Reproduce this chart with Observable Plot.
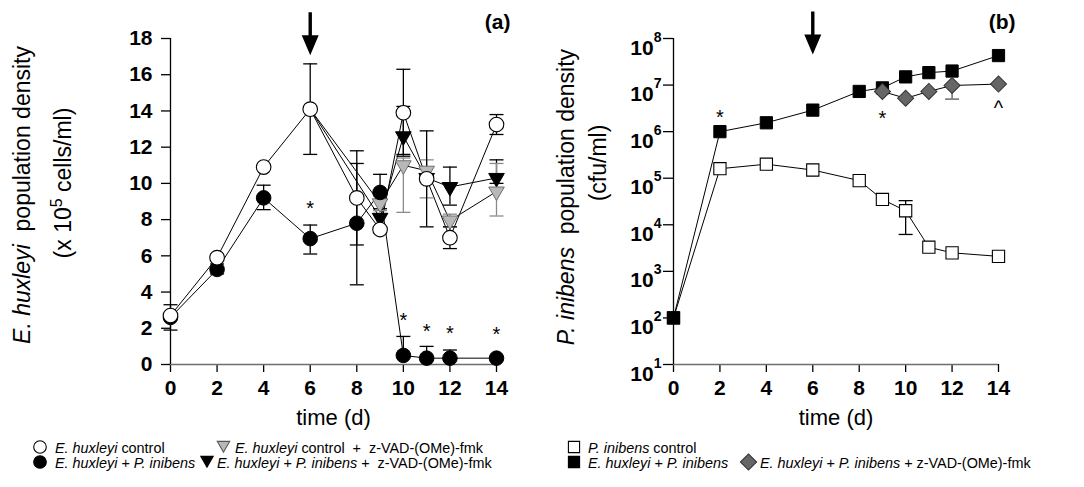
<!DOCTYPE html>
<html><head><meta charset="utf-8">
<script src="https://cdn.jsdelivr.net/npm/d3@7"></script>
<script src="https://cdn.jsdelivr.net/npm/@observablehq/plot@0.6"></script>
<style>
body{margin:0;background:#fff;}
#wrap{position:relative;width:1084px;height:487px;overflow:hidden;font-family:"Liberation Sans",Arial,sans-serif;}
#wrap svg{position:absolute;top:0;overflow:visible;}
</style></head><body><div id="wrap"></div>
<script>
// ---------------- data ----------------
const days = [0, 2, 4, 6, 8, 9, 10, 11, 12, 14];
const xTicks = [0, 2, 4, 6, 8, 10, 12, 14];
const yTicksA = [0, 2, 4, 6, 8, 10, 12, 14, 16, 18];
const yTicksB = [1e1, 1e2, 1e3, 1e4, 1e5, 1e6, 1e7, 1e8];

// panel (a): E. huxleyi density (x 10^5 cells/ml)
const ehControl   = [2.7, 5.9, 10.9, 14.1, 9.2, 7.45, 13.9, 10.25, 7.0, 13.25];
const ehControlLo = [1.9, null, null, 11.6, 6.6, null, 11.5, 7.6, 6.4, 12.7];
const ehControlHi = [3.3, null, null, 16.6, 11.8, null, 16.3, 12.9, 7.6, 13.8];
const ehPi   = [2.6, 5.25, 9.2, 6.95, 7.8, 9.5, 0.5, 0.35, 0.35, 0.35];
const ehPiLo = [null, 5.0, 8.55, 6.1, 4.4, 8.6, null, null, null, null];
const ehPiHi = [null, 5.55, 9.9, 7.7, 11.1, 10.5, 1.55, 1.0, 0.8, null];
const zvadDays = [6, 9, 10, 11, 12, 14];
const ehControlZvad   = [14.1, 8.9, 11.0, 10.7, 7.95, 9.55];
const ehControlZvadLo = [null, 8.5, 8.4, 9.2, 7.6, 8.2];
const ehControlZvadHi = [null, 9.3, 11.4, 11.3, 8.3, 11.1];
const ehPiZvad   = [14.1, 8.1, 12.6, 10.3, 9.8, 10.3];
const ehPiZvadLo = [null, null, 11.6, null, 8.8, 10.0];
const ehPiZvadHi = [null, null, 14.25, null, 10.9, 11.3];
const starDaysA = [6, 10, 11, 12, 14];
const starValsA = [8.9, 2.7, 2.1, 2.0, 1.9];

// panel (b): P. inibens density (cfu/ml)
const piControl   = [100, 1.6e5, 2.0e5, 1.5e5, 8.9e4, 3.5e4, 2.0e4, 3.3e3, 2.5e3, 2.1e3];
const piControlLo = [null, null, null, null, null, null, 6.2e3, null, null, null];
const piControlHi = [null, null, null, null, null, null, 3.3e4, null, null, null];
const ehPiB = [100, 1.0e6, 1.55e6, 2.9e6, 7.3e6, 8.7e6, 1.5e7, 1.85e7, 2.0e7, 4.3e7];
const zvadDaysB = [9, 10, 11, 12, 14];
const ehPiZvadB   = [7.3e6, 5.2e6, 7.3e6, 9.8e6, 1.05e7];
const ehPiZvadBLo = [null, null, null, 5.0e6, null];
const starDaysB = [2, 9, 14];
const starValsB = [2.56e6, 2.43e6, 3.98e6];
const starSymsB = ["*", "*", "^"];

// arrow (addition of z-VAD at day 6)
const arrowDay = 6;
const arrowTopA = 19.45;
const arrowTopB = 3.8e8;

// ---------------- helpers ----------------
const FONT = "'Liberation Sans', Arial, Helvetica, sans-serif";
function rows(xs, ys, lo, hi) {
  return xs.map((x, i) => ({x, y: ys[i], lo: lo ? lo[i] : null, hi: hi ? hi[i] : null}));
}
function errBars(r) {
  return r.filter(d => d.lo != null || d.hi != null).map(d => ({x: d.x, y1: d.lo ?? d.y, y2: d.hi ?? d.y}));
}
function caps(r) {
  const out = [];
  r.forEach(d => { if (d.lo != null) out.push({x: d.x, y: d.lo}); if (d.hi != null) out.push({x: d.x, y: d.hi}); });
  return out;
}
const capSymbol = {draw(ctx) { ctx.moveTo(-7, 0); ctx.lineTo(7, 0); }};
const arrowSymbol = {draw(ctx) {
  const l = 43, hh = 20, hw = 8.5, sw = 1.7;
  ctx.moveTo(-sw, 0); ctx.lineTo(sw, 0); ctx.lineTo(sw, l - hh); ctx.lineTo(hw, l - hh);
  ctx.lineTo(0, l); ctx.lineTo(-hw, l - hh); ctx.lineTo(-sw, l - hh); ctx.closePath();
}};
function errMarks(r, color) {
  return [
    Plot.ruleX(errBars(r), {x: "x", y1: "y1", y2: "y2", stroke: color, strokeWidth: 1.3}),
    Plot.dot(caps(r), {x: "x", y: "y", symbol: capSymbol, fill: "none", stroke: color, strokeWidth: 1.3})
  ];
}
function yTitle(svg, x, y, parts) {
  const t = d3.select(svg).append("text")
    .attr("transform", `translate(${x},${y}) rotate(-90)`)
    .attr("text-anchor", "middle").attr("fill", "black")
    .style("font-family", FONT).style("font-size", "23px").style("font-weight", "normal").style("white-space", "pre");
  parts.forEach(p => {
    const s = t.append("tspan").text(p.t);
    if (p.i) s.style("font-style", "italic");
    if (p.sup) s.attr("dy", -9).style("font-size", "16px");
    if (p.after) s.attr("dy", 9);
  });
}

const wrap = document.getElementById("wrap");

// ---------------- panel (a) ----------------
const aCtrl = rows(days, ehControl, ehControlLo, ehControlHi);
const aPi = rows(days, ehPi, ehPiLo, ehPiHi);
const aCtrlZ = rows(zvadDays, ehControlZvad, ehControlZvadLo, ehControlZvadHi);
const aPiZ = rows(zvadDays, ehPiZvad, ehPiZvadLo, ehPiZvadHi);
const starsA = starDaysA.map((x, i) => ({x, y: starValsA[i], s: "*"}));

const plotA = Plot.plot({
  width: 540, height: 440,
  marginLeft: 170, marginRight: 44, marginTop: 38, marginBottom: 76,
  x: {domain: [0, 14]},
  y: {domain: [0, 18]},
  style: {fontFamily: FONT, fontSize: "21px", fontWeight: "bold", background: "transparent", overflow: "visible", color: "black"},
  marks: [
    Plot.axisX({ticks: xTicks, tickSize: 8, tickPadding: 8, label: null, strokeWidth: 1.3}),
    Plot.axisY({ticks: yTicksA, tickSize: 9, tickPadding: 9, label: null, strokeWidth: 1.3}),
    Plot.ruleY([0], {stroke: "#6e6e6e", strokeWidth: 1.5}),
    Plot.ruleX([0], {stroke: "black", strokeWidth: 1.3}),
    Plot.line(aPiZ, {x: "x", y: "y", stroke: "black", strokeWidth: 1}),
    Plot.line(aCtrlZ, {x: "x", y: "y", stroke: "black", strokeWidth: 1}),
    Plot.line(aPi, {x: "x", y: "y", stroke: "black", strokeWidth: 1}),
    Plot.line(aCtrl, {x: "x", y: "y", stroke: "black", strokeWidth: 1}),
    ...errMarks(aPiZ, "black"),
    ...errMarks(aCtrlZ, "#8a8a8a"),
    ...errMarks(aPi, "black"),
    ...errMarks(aCtrl, "black"),
    Plot.dot(aPiZ.filter(d => d.x >= 9), {x: "x", y: "y", symbol: "triangle", rotate: 180, r: 5.8, fill: "black", stroke: "black", strokeWidth: 1}),
    Plot.dot(aCtrlZ.filter(d => d.x >= 9), {x: "x", y: "y", symbol: "triangle", rotate: 180, r: 5.8, fill: "#b8b8b8", stroke: "#707070", strokeWidth: 1}),
    Plot.dot(aPi, {x: "x", y: "y", r: 7.3, fill: "black", stroke: "black", strokeWidth: 1}),
    Plot.dot(aCtrl, {x: "x", y: "y", r: 7.3, fill: "white", stroke: "black", strokeWidth: 1.1}),
    Plot.text(starsA, {x: "x", y: "y", text: "s", fontSize: 20, fontWeight: "normal", dy: 5}),
    Plot.dot([{x: arrowDay, y: arrowTopA}], {x: "x", y: "y", symbol: arrowSymbol, fill: "black", stroke: "none"}),
    Plot.text(["(a)"], {frameAnchor: "top-right", dx: 14, dy: -10, lineAnchor: "bottom", textAnchor: "end", fontSize: 21, fontWeight: "bold"}),
    Plot.text(["time (d)"], {frameAnchor: "bottom", dy: 60, lineAnchor: "bottom", fontSize: 22, fontWeight: "normal"})
  ]
});
plotA.style.left = "0px";
wrap.appendChild(plotA);
yTitle(plotA, 30, 195, [{t: "E. huxleyi", i: true}, {t: "  population density"}]);
yTitle(plotA, 71, 183, [{t: "(x 10"}, {t: "5", sup: true}, {t: " cells/ml)", after: true}]);

// ---------------- panel (b) ----------------
const bCtrl = rows(days, piControl, piControlLo, piControlHi);
const bPi = rows(days, ehPiB, null, null);
const bPiZ = rows(zvadDaysB, ehPiZvadB, ehPiZvadBLo, null);
const starsB = starDaysB.map((x, i) => ({x, y: starValsB[i], s: starSymsB[i]}));

const plotB = Plot.plot({
  width: 544, height: 440,
  marginLeft: 133, marginRight: 86, marginTop: 38, marginBottom: 76,
  x: {domain: [0, 14]},
  y: {type: "log", domain: [1e1, 1e8]},
  style: {fontFamily: FONT, fontSize: "21px", fontWeight: "bold", background: "transparent", overflow: "visible", color: "black"},
  marks: [
    Plot.axisX({ticks: xTicks, tickSize: 8, tickPadding: 8, label: null, strokeWidth: 1.3}),
    Plot.axisY({ticks: yTicksB, tickSize: 10, tickPadding: 2, label: null, strokeWidth: 1.3, tickFormat: d => String(Math.round(Math.log10(d)))}),
    Plot.ruleY([1e1], {stroke: "#6e6e6e", strokeWidth: 1.5}),
    Plot.ruleX([0], {stroke: "black", strokeWidth: 1.3}),
    Plot.line(bCtrl, {x: "x", y: "y", stroke: "black", strokeWidth: 1}),
    Plot.line(bPi, {x: "x", y: "y", stroke: "black", strokeWidth: 1}),
    Plot.line(bPiZ, {x: "x", y: "y", stroke: "black", strokeWidth: 1}),
    ...errMarks(bCtrl, "black"),
    ...errMarks(bPiZ, "#555"),
    Plot.dot(bCtrl, {x: "x", y: "y", symbol: "square", r: 6.9, fill: "white", stroke: "black", strokeWidth: 1.1}),
    Plot.dot(bPi, {x: "x", y: "y", symbol: "square", r: 6.9, fill: "black", stroke: "black", strokeWidth: 1}),
    Plot.dot(bPiZ, {x: "x", y: "y", symbol: "square", rotate: 45, r: 6.4, fill: "#666666", stroke: "#333", strokeWidth: 1}),
    Plot.text(starsB, {x: "x", y: "y", text: "s", fontSize: 20, fontWeight: "normal", dy: 5}),
    Plot.dot([{x: arrowDay, y: arrowTopB}], {x: "x", y: "y", symbol: arrowSymbol, fill: "black", stroke: "none"}),
    Plot.text(["(b)"], {frameAnchor: "top-right", dx: 17, dy: -10, lineAnchor: "bottom", textAnchor: "end", fontSize: 21, fontWeight: "bold"}),
    Plot.text(["time (d)"], {frameAnchor: "bottom", dy: 60, lineAnchor: "bottom", fontSize: 22, fontWeight: "normal"})
  ]
});
plotB.style.left = "540px";
wrap.appendChild(plotB);
// powers of ten with superscript exponents
d3.select(plotB).selectAll('g[aria-label="y-axis tick label"] text').each(function () {
  const e = this.textContent;
  const s = d3.select(this);
  s.text(null).attr("y", null).attr("dy", null);
  s.append("tspan").text("10").attr("dy", 16);
  s.append("tspan").text(e).attr("dy", -13).style("font-size", "14px");
});
yTitle(plotB, 34, 197, [{t: "P. inibens", i: true}, {t: "  population density"}]);
yTitle(plotB, 66, 163, [{t: "(cfu/ml)"}]);

// ---------------- legend ----------------
const legendItems = [
  {sym: "circle", fill: "white", stroke: "black", parts: [["E. huxleyi", 1], [" control", 0]]},
  {sym: "triangle", fill: "#b8b8b8", stroke: "#555", parts: [["E. huxleyi", 1], [" control  +  z-VAD-(OMe)-fmk", 0]]},
  {sym: "circle", fill: "black", stroke: "black", parts: [["E. huxleyi", 1], [" + ", 0], ["P. inibens", 1]]},
  {sym: "triangle", fill: "black", stroke: "black", parts: [["E. huxleyi", 1], [" + ", 0], ["P. inibens", 1], [" +  z-VAD-(OMe)-fmk", 0]]},
  {sym: "square", fill: "white", stroke: "black", parts: [["P. inibens", 1], [" control", 0]]},
  {sym: "square", fill: "black", stroke: "black", parts: [["E. huxleyi", 1], [" + ", 0], ["P. inibens", 1]]},
  {sym: "diamond", fill: "#666", stroke: "#333", parts: [["E. huxleyi", 1], [" + ", 0], ["P. inibens", 1], [" + z-VAD-(OMe)-fmk", 0]]}
];
const legendPos = [[40, 447, 55, 453], [223.5, 445, 235, 453], [40, 462, 55, 468], [207, 460, 217, 468],
                   [574, 447, 588, 453], [574, 462, 588, 468], [748.5, 462, 760, 468]];
const leg = d3.select(wrap).append("svg").attr("width", 1084).attr("height", 487).style("left", "0px").style("pointer-events", "none");
legendItems.forEach((it, k) => {
  const [mx, my, tx, ty] = legendPos[k];
  let path;
  if (it.sym === "circle") path = d3.symbol(d3.symbolCircle, Math.PI * 6.3 * 6.3)();
  else if (it.sym === "triangle") path = d3.symbol(d3.symbolTriangle, Math.PI * 4.6 * 4.6)();
  else path = d3.symbol(d3.symbolSquare, it.sym === "diamond" ? 130 : 125)();
  const rot = it.sym === "triangle" ? 180 : it.sym === "diamond" ? 45 : 0;
  leg.append("path").attr("d", path).attr("transform", `translate(${mx},${my}) rotate(${rot})`)
    .attr("fill", it.fill).attr("stroke", it.stroke).attr("stroke-width", 1.1);
  const t = leg.append("text").attr("x", tx).attr("y", ty).attr("fill", "black")
    .style("font-family", FONT).style("font-size", "14.4px").style("white-space", "pre");
  it.parts.forEach(([s, ital]) => { const sp = t.append("tspan").text(s); if (ital) sp.style("font-style", "italic"); });
});
</script></body></html>
